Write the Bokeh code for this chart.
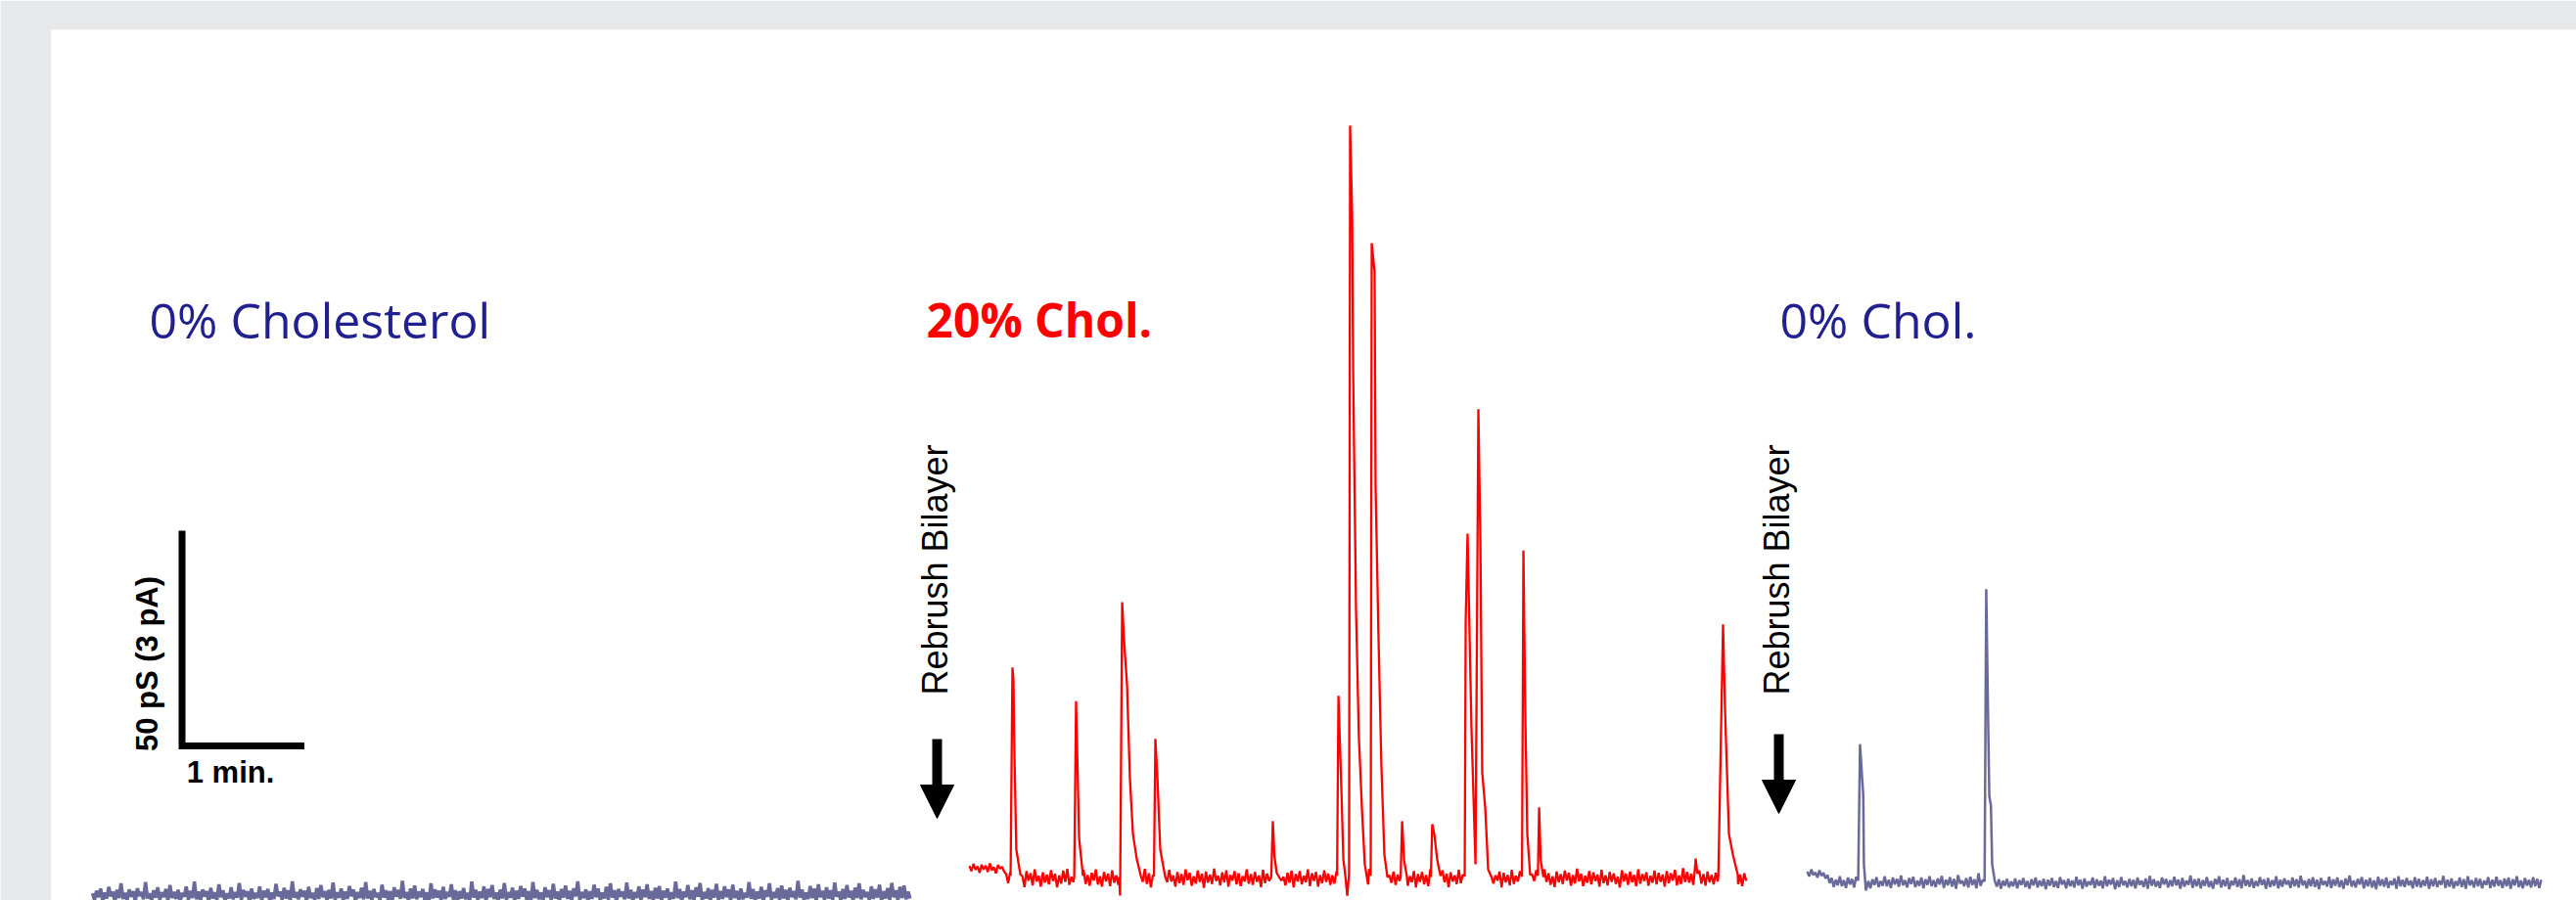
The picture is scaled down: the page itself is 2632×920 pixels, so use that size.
import numpy as np
from bokeh.plotting import figure
from bokeh.models import Range1d, Label, Arrow, NormalHead
from bokeh.embed import file_html
from bokeh.resources import INLINE

# ---------------- data ----------------
DT = 1.0  # seconds between baseline samples

# Recording 1: 0% cholesterol, conductance (pS) around its own baseline
trace1_noise = [
    0.3, -1.2, 0.9, -0.6, 1.4, -1.5, 0.5, -0.9, 1.8, -0.4, 0.7, -1.6, 1.1, -0.8, 2.6, -1.0, 0.4, -1.3, 1.2, -0.5,
    0.8, -1.7, 1.5, -0.3, 0.6, -1.1, 2.9, -0.9, 0.3, -1.4, 1.0, -0.7, 1.7, -1.2, 0.5, -0.6, 1.3, -1.5, 2.2, -0.8,
    0.6, -1.0, 1.1, -1.6, 0.4, -0.5, 1.9, -1.2, 0.9, -0.8, 3.0, -1.1, 0.7, -1.4, 1.2, -0.4, 0.8, -1.7, 1.6, -0.9,
    0.5, -1.3, 2.4, -0.6, 1.0, -1.5, 0.3, -0.9, 1.7, -1.1, 0.6, -0.7, 2.7, -1.3, 1.1, -0.5, 0.8, -1.6, 1.4, -1.0,
    0.4, -0.8, 1.9, -1.4, 0.9, -0.6, 1.3, -1.7, 0.5, -1.0, 2.5, -0.4, 0.7, -1.2, 1.6, -0.9, 1.0, -1.5, 3.1, -0.7,
    0.6, -1.1, 1.2, -0.5, 0.9, -1.6, 1.8, -0.8, 0.4, -1.3, 1.5, -1.0, 2.2, -0.6, 0.8, -1.4, 1.1, -0.9, 2.8, -1.2,
    0.5, -0.7, 1.4, -1.5, 0.7, -1.0, 2.0, -0.4, 1.2, -1.7, 0.6, -0.8, 1.6, -1.1, 2.9, -0.9, 0.9, -1.3, 1.3, -0.6,
    0.4, -1.4, 2.3, -0.7, 1.0, -1.2, 0.8, -1.6, 1.7, -0.5, 1.1, -1.0, 3.2, -0.8, 0.6, -1.5, 1.4, -0.9, 2.1, -1.1,
    0.7, -0.6, 1.3, -1.3, 0.5, -1.7, 2.6, -0.9, 1.2, -0.7, 0.9, -1.4, 1.8, -1.0, 0.6, -0.5, 2.4, -1.2, 1.0, -1.6,
    0.8, -0.9, 1.5, -1.1, 0.4, -1.5, 3.0, -0.7, 1.1, -1.3, 0.7, -0.8, 1.9, -1.6, 1.3, -0.6, 2.2, -1.0, 0.5, -1.4,
    1.2, -0.9, 2.7, -1.2, 0.6, -0.7, 1.6, -1.5, 0.9, -1.0, 2.0, -0.5, 1.4, -1.3, 0.8, -1.7, 2.9, -0.8, 1.1, -1.1,
    0.5, -1.4, 1.7, -0.6, 1.0, -1.2, 2.5, -0.9, 0.7, -1.6, 1.3, -0.7, 2.1, -1.0, 0.9, -1.5, 1.5, -0.4, 3.1, -1.3,
    0.6, -0.8, 1.2, -1.6, 0.8, -1.0, 2.3, -0.6, 1.4, -1.4, 0.5, -0.9, 1.8, -1.2, 2.6, -0.7, 1.0, -1.7, 1.3, -0.5,
    0.7, -1.1, 2.8, -0.9, 1.1, -1.5, 0.6, -0.8, 1.9, -1.3, 1.2, -0.6, 2.4, -1.0, 0.8, -1.4, 1.6, -0.9, 2.0, -1.6,
    0.9, -0.7, 1.4, -1.2, 0.5, -1.0, 3.0, -0.8, 1.3, -1.5, 0.7, -0.6, 2.2, -1.1, 1.0, -1.3, 1.7, -0.5, 2.7, -1.4,
    0.6, -0.9, 1.5, -1.6, 1.1, -0.7, 2.5, -1.2, 0.8, -1.0, 1.9, -0.6, 1.2, -1.5, 2.3, -0.8, 0.9, -1.3, 1.4, -1.1,
    0.4, -0.7, 2.9, -1.0, 1.3, -1.4, 0.7, -0.9, 1.8, -1.6, 1.0, -0.5, 2.6, -1.2, 0.6, -0.8, 1.5, -1.3, 2.1, -0.9,
    1.1, -1.5, 1.6, -0.6, 0.8, -1.1, 3.2, -0.7, 1.2, -1.4, 0.5, -1.0, 2.0, -0.8, 1.4, -1.6, 2.4, -0.6, 0.9, -1.2,
    1.7, -0.9, 1.0, -1.3, 2.8, -0.5, 0.7, -1.5, 1.3, -1.0, 2.2, -0.7, 0.9, -1.4, 1.6, -0.8, 2.6, -1.1, 1.1, -0.6,
    0.6, -1.3, 1.9, -1.0, 1.2, -0.7, 2.3, -1.5, 0.8, -0.9, 1.5, -1.2, 2.7, -0.6, 1.0, -1.4, 1.8, -0.8, 2.1, -1.1,
    0.7, -0.9,
]

# Recording 2: 20% cholesterol (red), baseline samples
trace2_noise = [
    2.8, 1.6, 3.3, 1.9, 2.7, 1.2, 3.1, 2.0, 2.9, 1.4, 3.4, 1.8, 2.5, 1.1, 3.0, 2.2, 2.6, 1.5, 0.9, -1.2,
    1.4, -1.8, 0.7, -0.9, 1.9, -1.4, 0.4, -2.1, 1.6, -0.6, 1.1, -1.7, 2.0, -0.8, 0.5, -2.0, 1.3, -1.1, 0.8, -1.5,
    1.8, -0.7, 1.0, -2.2, 0.6, -1.3, 1.7, -0.9, 2.1, -1.6, 0.3, -1.0, 1.5, -2.3, 0.9, -0.5, 1.9, -1.4, 0.7, -1.8,
    1.2, -0.6, 2.0, -1.5, 0.4, -2.0, 1.4, -0.8, 1.0, -1.9, 1.8, -1.1, 0.6, -1.6, 2.2, -0.7, 0.9, -1.3, 1.5, -2.1,
    0.8, -1.0, 1.7, -1.7, 0.5, -0.9, 2.1, -1.4, 1.1, -2.2, 0.7, -0.6, 1.6, -1.5, 0.3, -1.9, 1.3, -1.0, 1.9, -0.8,
    0.6, -2.0, 1.4, -1.2, 0.9, -1.6, 2.0, -0.5, 1.2, -1.8, 0.4, -1.3, 1.7, -0.9, 1.0, -2.3, 1.5, -1.1, 0.8, -1.4,
    2.2, -0.7, 0.5, -1.7, 1.3, -1.0, 1.8, -2.0, 0.7, -0.6, 1.6, -1.5, 1.1, -1.9, 0.4, -0.8, 2.0, -1.3, 0.9, -1.6,
    1.4, -0.9, 0.6, -2.1, 1.9, -1.2, 1.0, -0.7, 1.5, -1.8, 0.8, -1.4, 2.1, -0.6, 0.3, -1.7, 1.2, -1.1, 1.7, -2.2,
    0.9, -0.8, 1.6, -1.5, 0.5, -1.0, 2.0, -1.9, 1.1, -0.7, 1.4, -2.0, 0.7, -1.2, 1.8, -0.9, 1.0, -1.6, 0.6, -1.3,
    1.5, -1.1, 0.8, -1.8, 1.3, -0.6, 1.9, -1.4, 0.4, -2.1, 1.2, -0.9, 1.7, -1.5, 0.9, -1.2, 2.1, -0.7, 0.5, -1.9,
    1.3, -1.4, 1.0, -0.8, 1.8, -2.0, 0.6, -1.1, 1.5, -1.6, 0.8, -0.7, 2.2, -1.3, 1.1, -1.8, 0.4, -1.0, 1.6, -2.2,
    0.9, -0.9, 1.4, -1.5, 0.7, -1.9, 2.0, -0.6, 1.2, -1.3, 0.5, -1.7, 1.8, -1.0, 1.0, -2.1, 1.3, -0.8, 0.6, -1.4,
    1.9, -1.2, 0.8, -1.6, 1.4, -0.7, 1.1, -2.0, 0.4, -1.1, 1.7, -1.5, 0.9, -0.9, 2.1, -1.8, 1.0, -1.3, 0.6, -0.6,
    1.5, -2.2, 1.2, -1.0, 0.7, -1.7, 1.9, -1.4, 0.5, -0.8, 1.6, -1.9, 1.0, -1.1, 1.3, -2.0, 0.8, -0.7, 1.8, -1.5,
    0.6, -1.2, 2.0, -0.9, 1.1, -1.6, 0.4, -2.1, 1.5, -1.0, 0.9, -1.4, 1.7, -0.6, 1.2, -1.8, 0.7, -1.3, 2.2, -0.8,
    1.0, -1.9, 0.5, -1.1, 1.6, -1.5, 1.3, -0.7, 0.8, -2.0, 1.9, -1.2, 0.6, -1.7, 1.4, -0.9, 1.1, -1.4, 0.3, -2.2,
    1.8, -0.8, 1.0, -1.6, 1.5, -1.0, 0.7, -1.9, 2.0, -1.3, 0.9, -0.7, 1.3, -1.8, 0.5, -1.1, 1.7, -1.5, 1.2, -0.9,
    0.8, -2.0, 1.6, -1.2, 1.1, -0.6, 1.9, -1.7, 0.6, -1.4, 2.3, -0.9, 1.4, -1.1, 1.0, -1.6, 2.4, -0.5, 1.7, -1.3,
    0.9, -1.8, 1.5, -1.0, 0.7, -1.5, 1.2, -0.8, 1.8, -2.1, 1.0, -1.2, 0.6, -1.7, 1.4, -0.9, 2.0, -1.4, 0.8, -1.9,
    1.1, -0.7,
]
# channel openings in recording 2: times (s) and conductance (pS)
trace2_event_t = [
    [20.2, 21.1, 21.6, 22.1, 23.0, 25.0],
    [51.4, 52.3, 52.8, 53.8, 55.7],
    [73.4, 73.9, 74.9, 75.8, 77.3, 78.7, 80.2, 82.1, 84.0],
    [90.5, 91.2, 92.2, 93.6, 96.0],
    [148.0, 148.8, 149.6, 150.7, 152.0],
    [180.3, 181.0, 182.4, 183.4, 184.3, 185.3,
     186.2, 186.7, 187.7, 188.2, 189.6, 191.0, 192.5, 193.9, 195.5],
    [196.8, 197.3, 198.7, 199.2, 200.6, 202.0, 203.5, 205.0],
    [211.5, 212.2, 213.2, 214.5],
    [226.3, 227.0, 228.0, 229.4, 231.0],
    [242.9, 243.4, 244.3, 246.2, 248.2,
     249.6, 250.6, 251.5, 253.0, 254.4, 256.0],
    [271.0, 271.7, 272.6, 273.6, 275.0],
    [278.8, 279.4, 280.2, 281.5],
    [355.5, 356.2, 357.0],
    [367.3, 369.6, 370.6, 372.5, 374.4, 376.8],
]
trace2_event_v = [
    [0.5, 48.9, 46.0, 28.0, 6.6, 0.8],
    [0.3, 41.1, 30.5, 9.1, 0.5],
    [0.2, -4.1, 64.1, 55.5, 44.8, 23.2, 10.2, 4.3, 0.6],
    [0.4, 32.3, 23.2, 6.6, 0.3],
    [0.2, 13.2, 5.0, 1.2, 0.1],
    [0.5, 42.3, 20.9, 4.3, 0.8, -4.1,
     1.0, 174.8, 154.1, 117.3, 62.5, 32.7, 16.1, 3.2, -1.5],
    [0.5, 147.5, 140.9, 91.1, 56.6, 26.8, 5.5, 0.2],
    [0.3, 13.2, 4.0, 0.5],
    [0.2, 12.5, 10.2, 4.3, 0.5],
    [0.4, 60.0, 80.0, 35.2, 3.2,
     108.9, 78.0, 24.5, 16.1, 2.0, 0.3],
    [0.3, 76.1, 38.6, 10.2, 0.8],
    [0.5, 16.4, 4.0, 0.2],
    [0.5, 4.5, 1.0],
    [0.5, 58.9, 38.6, 10.2, 5.5, 0.8],
]

# Recording 3: back to 0% cholesterol
trace3_noise = [
    2.4, 1.3, 2.9, 1.6, 2.2, 1.0, 2.7, 1.4, 2.1, 0.8, 1.6, -0.3, 0.9, -1.2, 0.5, -0.8, 1.3, -1.0, 0.4, -1.4,
    1.0, -0.6, 0.7, -1.3, 1.2, -0.9, 0.3, -1.1, 1.4, -0.5, 0.8, -1.5, 0.6, -0.7, 1.1, -1.2, 0.2, -0.9, 1.3, -1.0,
    0.5, -1.4, 1.0, -0.6, 0.7, -1.1, 1.5, -0.8, 0.4, -1.3, 0.9, -0.5, 1.2, -1.2, 0.3, -0.9, 1.0, -1.5, 0.6, -0.7,
    1.3, -1.0, 0.4, -1.2, 0.8, -0.6, 1.4, -1.4, 0.5, -0.8, 1.1, -1.1, 0.7, -1.6, 1.6, -0.4, 0.3, -1.0, 0.9, -1.3,
    1.2, -0.7, 0.6, -1.5, 2.0, -0.9, 0.4, -1.8, 0.8, -1.0, 1.1, -1.4, 0.2, -1.1, 0.6, -1.6, 0.3, -0.9, 0.7, -1.3,
    0.1, -1.0, 0.8, -1.5, 0.4, -0.7, 0.9, -1.2, 0.2, -1.6, 0.6, -0.8, 1.0, -1.3, 0.3, -1.0, 0.7, -1.7, 0.5, -0.9,
    0.9, -1.2, 0.2, -1.4, 1.1, -0.6, 0.4, -1.5, 0.7, -1.0, 0.3, -1.3, 1.2, -0.8, 0.5, -1.6, 0.8, -1.1, 0.1, -0.7,
    1.0, -1.4, 0.6, -0.9, 0.3, -1.5, 1.3, -1.0, 0.5, -0.6, 0.9, -1.7, 0.4, -1.2, 1.1, -0.8, 0.2, -1.3, 0.7, -1.0,
    0.5, -1.5, 1.0, -0.7, 0.3, -1.2, 0.8, -1.6, 1.4, -0.9, 0.6, -1.1, 0.2, -1.4, 1.0, -0.6, 0.7, -1.3, 0.4, -1.0,
    1.2, -0.8, 0.5, -1.6, 0.9, -1.1, 0.3, -0.7, 1.5, -1.4, 0.6, -1.0, 0.8, -1.5, 0.4, -0.9, 1.1, -1.2, 0.2, -1.6,
    0.7, -0.6, 1.3, -1.3, 0.5, -1.0, 0.9, -1.7, 0.3, -0.8, 1.0, -1.2, 0.6, -1.5, 1.6, -0.9, 0.4, -1.1, 0.8, -1.4,
    0.2, -1.0, 1.1, -0.7, 0.6, -1.6, 0.9, -1.2, 0.4, -0.9, 1.3, -1.5, 0.5, -1.1, 0.8, -0.6, 0.3, -1.4, 1.0, -1.0,
    0.6, -1.3, 1.4, -0.8, 0.3, -1.5, 0.7, -1.0, 1.1, -1.2, 0.5, -1.7, 0.9, -0.7, 0.2, -1.1, 1.2, -1.4, 0.6, -0.9,
    1.0, -1.2, 0.4, -1.6, 0.8, -0.8, 1.5, -1.1, 0.3, -1.3, 0.7, -0.6, 1.1, -1.5, 0.5, -1.0, 0.9, -1.3, 0.4, -1.7,
    1.2, -0.9, 0.6, -1.1, 1.0, -1.4, 0.2, -0.7, 0.8, -1.6, 1.3, -1.0, 0.5, -1.2, 0.9, -0.8, 0.3, -1.5, 1.1, -1.1,
    0.7, -1.3, 0.4, -0.9, 1.2, -1.6, 0.6, -1.0, 0.9, -1.2, 0.3, -0.7, 1.4, -1.4, 0.5, -1.1, 0.8, -1.5, 0.2, -0.9,
    1.0, -1.2, 0.6, -1.6, 1.3, -0.8, 0.4, -1.3, 0.9, -1.0, 0.7, -1.5, 0.3, -0.7, 1.1, -1.4, 0.5, -1.1, 1.2, -0.9,
    0.4, -1.4, 0.8, -1.0, 1.0, -1.6, 0.6, -0.8, 1.3, -1.2, 0.3, -1.5, 0.9, -0.9, 0.5, -1.3, 1.1, -1.0, 0.7, -1.4,
    0.5,
]
trace3_event_t = [
    [25.0, 25.9, 26.7, 27.5, 27.8, 28.8, 30.0],
    [87.0, 87.8, 88.5, 89.3, 90.1, 90.7, 92.0],
]
trace3_event_v = [
    [0.3, 32.0, 25.9, 20.0, 4.1, -2.0, 0.2],
    [0.2, 68.0, 45.0, 20.0, 17.7, 4.1, 0.2],
]

condition_labels = ["0% Cholesterol", "20% Chol.", "0% Chol."]
annotation_text = "Rebrush Bilayer"
scale_time_s = 60.0        # 1 min
scale_cond_pS = 50.0       # 50 pS (3 pA)
scale_x_label = "1 min."
scale_y_label = "50 pS (3 pA)"


def assemble(noise, ev_t, ev_v):
    t = np.arange(len(noise)) * DT
    pts = [(a, b) for a, b in zip(t, noise)
           if not any(et[0] <= a <= et[-1] for et in ev_t)]
    for et, evv in zip(ev_t, ev_v):
        pts += list(zip(et, evv))
    pts.sort()
    return np.array([a for a, _ in pts]), np.array([b for _, b in pts])


# ---------------- layout ----------------
W, H = 2632, 920
LEFT, TOP = 52, 30
PXS = 125.0 / 60.0   # px per second
PYS = 220.0 / 50.0   # px per pS
FRAME_W, FRAME_H = W - LEFT, H - TOP


def gx(px):   # page px -> seconds
    return (px - LEFT) / PXS


def gy(py):   # page px -> pS
    return (H - py) / PYS


p = figure(width=W, height=H, output_backend="svg", toolbar_location=None,
           x_axis_type=None, y_axis_type=None,
           x_range=Range1d(0, FRAME_W / PXS), y_range=Range1d(0, FRAME_H / PYS),
           min_border_left=LEFT, min_border_top=TOP,
           min_border_right=0, min_border_bottom=0)
p.grid.visible = False
p.outline_line_color = None
p.border_fill_color = "#e7e8ea"
p.background_fill_color = "white"

GREY = "#6a6a9a"
RED = "#ff0000"
NAVY = "#20208f"

t1 = np.arange(len(trace1_noise)) * DT
p.line(t1 + gx(94), np.array(trace1_noise) + gy(914), line_color=GREY, line_width=3.5)

t2, v2 = assemble(trace2_noise, trace2_event_t, trace2_event_v)
p.line(t2 + gx(990), v2 + gy(897), line_color=RED, line_width=2.3)

t3, v3 = assemble(trace3_noise, trace3_event_t, trace3_event_v)
p.line(t3 + gx(1846), v3 + gy(901), line_color=GREY, line_width=2.5)

# condition titles
TITLE_BASE = 326
p.add_layout(Label(x=gx(152), y=gy(TITLE_BASE), text=condition_labels[0], text_color=NAVY,
                   text_font="Open Sans", text_font_size="50px", text_baseline="alphabetic"))
p.add_layout(Label(x=gx(946), y=gy(TITLE_BASE), text=condition_labels[1], text_color=RED,
                   text_font="Open Sans", text_font_style="bold", text_font_size="48px",
                   text_baseline="alphabetic"))
p.add_layout(Label(x=gx(1818), y=gy(TITLE_BASE), text=condition_labels[2], text_color=NAVY,
                   text_font="Open Sans", text_font_size="50px", text_baseline="alphabetic"))

# rebrush annotations + arrows
for cx, ay0, ay1 in [(955, 755, 836), (1815, 750, 831)]:
    p.add_layout(Label(x=gx(cx), y=gy(582), text=annotation_text, angle=np.pi / 2,
                       text_align="center", text_baseline="middle",
                       text_font="Liberation Sans", text_font_size="36px",
                       text_color="black"))
    p.add_layout(Arrow(x_start=gx(cx + 2), y_start=gy(ay0), x_end=gx(cx + 2), y_end=gy(ay1),
                       line_width=10, line_color="black",
                       end=NormalHead(size=34, fill_color="black", line_color="black")))

# scale bar
sx0, sy0 = gx(185.5), gy(762)
p.line([sx0, sx0, sx0 + scale_time_s], [sy0 + scale_cond_pS, sy0, sy0],
       line_color="black", line_width=7, line_join="miter")
p.add_layout(Label(x=gx(150), y=gy(678), text=scale_y_label, angle=np.pi / 2,
                   text_align="center", text_baseline="middle",
                   text_font="Liberation Sans", text_font_style="bold",
                   text_font_size="31px", text_color="black"))
p.add_layout(Label(x=gx(235), y=gy(789), text=scale_x_label,
                   text_align="center", text_baseline="alphabetic",
                   text_font="Liberation Sans", text_font_style="bold",
                   text_font_size="31px", text_color="black"))

open("out.html", "w").write(file_html(p, INLINE))
